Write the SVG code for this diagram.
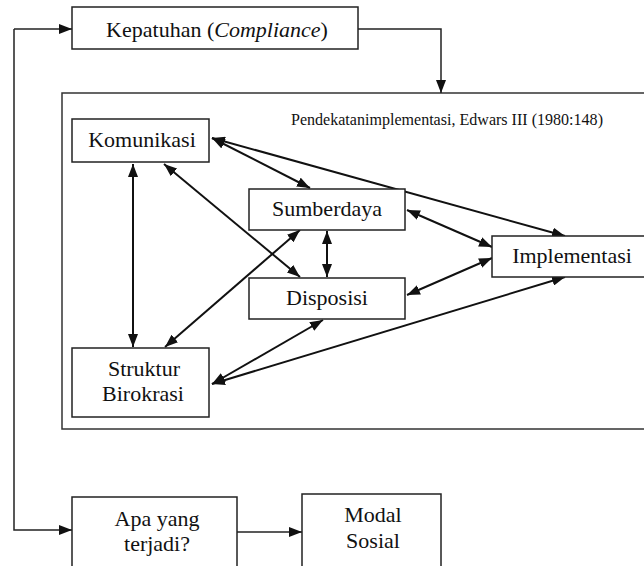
<svg xmlns="http://www.w3.org/2000/svg" width="644" height="566" viewBox="0 0 644 566">
<style>
.box{fill:#fff;stroke:#222;stroke-width:1.5}
.frame{fill:none;stroke:#333;stroke-width:1.5}
.c{fill:none;stroke:#111;stroke-width:2}
.c2{fill:none;stroke:#222;stroke-width:1.5}
</style>
<defs>
<marker id="ah" markerUnits="userSpaceOnUse" markerWidth="13" markerHeight="10" refX="13" refY="5" orient="auto-start-reverse">
<path d="M0,0 L13,5 L0,10 z" fill="#111"/>
</marker>
</defs>
<rect class="frame" x="62" y="93" width="600" height="336"/>
<text font-family="Liberation Serif" font-size="16" fill="#111" x="291" y="125" textLength="312" lengthAdjust="spacingAndGlyphs">Pendekatanimplementasi, Edwars III (1980:148)</text>
<g id="connectors">
<polyline class="c2" points="358,29 441,29 441,93" marker-end="url(#ah)"/>
<line class="c2" x1="14" y1="29" x2="72" y2="29" marker-end="url(#ah)"/>
<polyline class="c2" points="14,29 14,530 72,530" marker-end="url(#ah)"/>
<line class="c2" x1="237" y1="532" x2="302" y2="532" marker-end="url(#ah)"/>
<line class="c" x1="133" y1="164" x2="133" y2="347" marker-start="url(#ah)" marker-end="url(#ah)"/>
<line class="c" x1="164" y1="164" x2="300" y2="277" marker-start="url(#ah)" marker-end="url(#ah)"/>
<line class="c" x1="212" y1="138" x2="310" y2="188" marker-start="url(#ah)" marker-end="url(#ah)"/>
<line class="c" x1="212" y1="138" x2="565" y2="236" marker-start="url(#ah)" marker-end="url(#ah)"/>
<line class="c" x1="327" y1="231" x2="327" y2="277" marker-start="url(#ah)" marker-end="url(#ah)"/>
<line class="c" x1="300" y1="230" x2="165" y2="347" marker-start="url(#ah)" marker-end="url(#ah)"/>
<line class="c" x1="407" y1="210" x2="492" y2="247" marker-start="url(#ah)" marker-end="url(#ah)"/>
<line class="c" x1="407" y1="295" x2="492" y2="258" marker-start="url(#ah)" marker-end="url(#ah)"/>
<line class="c" x1="323" y1="320" x2="212" y2="384" marker-start="url(#ah)" marker-end="url(#ah)"/>
<line class="c" x1="212" y1="384" x2="565" y2="277" marker-start="url(#ah)" marker-end="url(#ah)"/>
</g>
<g id="kepatuhan">
<rect class="box" x="72" y="7" width="286" height="42"/>
<text font-family="Liberation Serif" font-size="22" fill="#111" text-anchor="middle" x="217" y="37">Kepatuhan (<tspan font-style="italic">Compliance</tspan>)</text>
</g>
<g id="komunikasi">
<rect class="box" x="72" y="119" width="137" height="43"/>
<text font-family="Liberation Serif" font-size="22" fill="#111" text-anchor="middle" x="142" y="147">Komunikasi</text>
</g>
<g id="sumberdaya">
<rect class="box" x="249" y="189" width="156" height="41"/>
<text font-family="Liberation Serif" font-size="22" fill="#111" text-anchor="middle" x="327" y="216">Sumberdaya</text>
</g>
<g id="disposisi">
<rect class="box" x="249" y="278" width="156" height="41"/>
<text font-family="Liberation Serif" font-size="22" fill="#111" text-anchor="middle" x="327" y="305">Disposisi</text>
</g>
<g id="implementasi">
<rect class="box" x="492" y="236" width="162" height="41"/>
<text font-family="Liberation Serif" font-size="22" fill="#111" text-anchor="middle" x="572" y="263">Implementasi</text>
</g>
<g id="struktur">
<rect class="box" x="72" y="348" width="137" height="69"/>
<text font-family="Liberation Serif" font-size="22" fill="#111" text-anchor="middle" x="144" y="376">Struktur</text>
<text font-family="Liberation Serif" font-size="22" fill="#111" text-anchor="middle" x="143" y="401">Birokrasi</text>
</g>
<g id="apa">
<rect class="box" x="72" y="497" width="165" height="90"/>
<text font-family="Liberation Serif" font-size="22" fill="#111" text-anchor="middle" x="157" y="526">Apa yang</text>
<text font-family="Liberation Serif" font-size="22" fill="#111" text-anchor="middle" x="157" y="551">terjadi?</text>
</g>
<g id="modal">
<rect class="box" x="302" y="494" width="139" height="90"/>
<text font-family="Liberation Serif" font-size="22" fill="#111" text-anchor="middle" x="373" y="522">Modal</text>
<text font-family="Liberation Serif" font-size="22" fill="#111" text-anchor="middle" x="373" y="548">Sosial</text>
</g>
</svg>
